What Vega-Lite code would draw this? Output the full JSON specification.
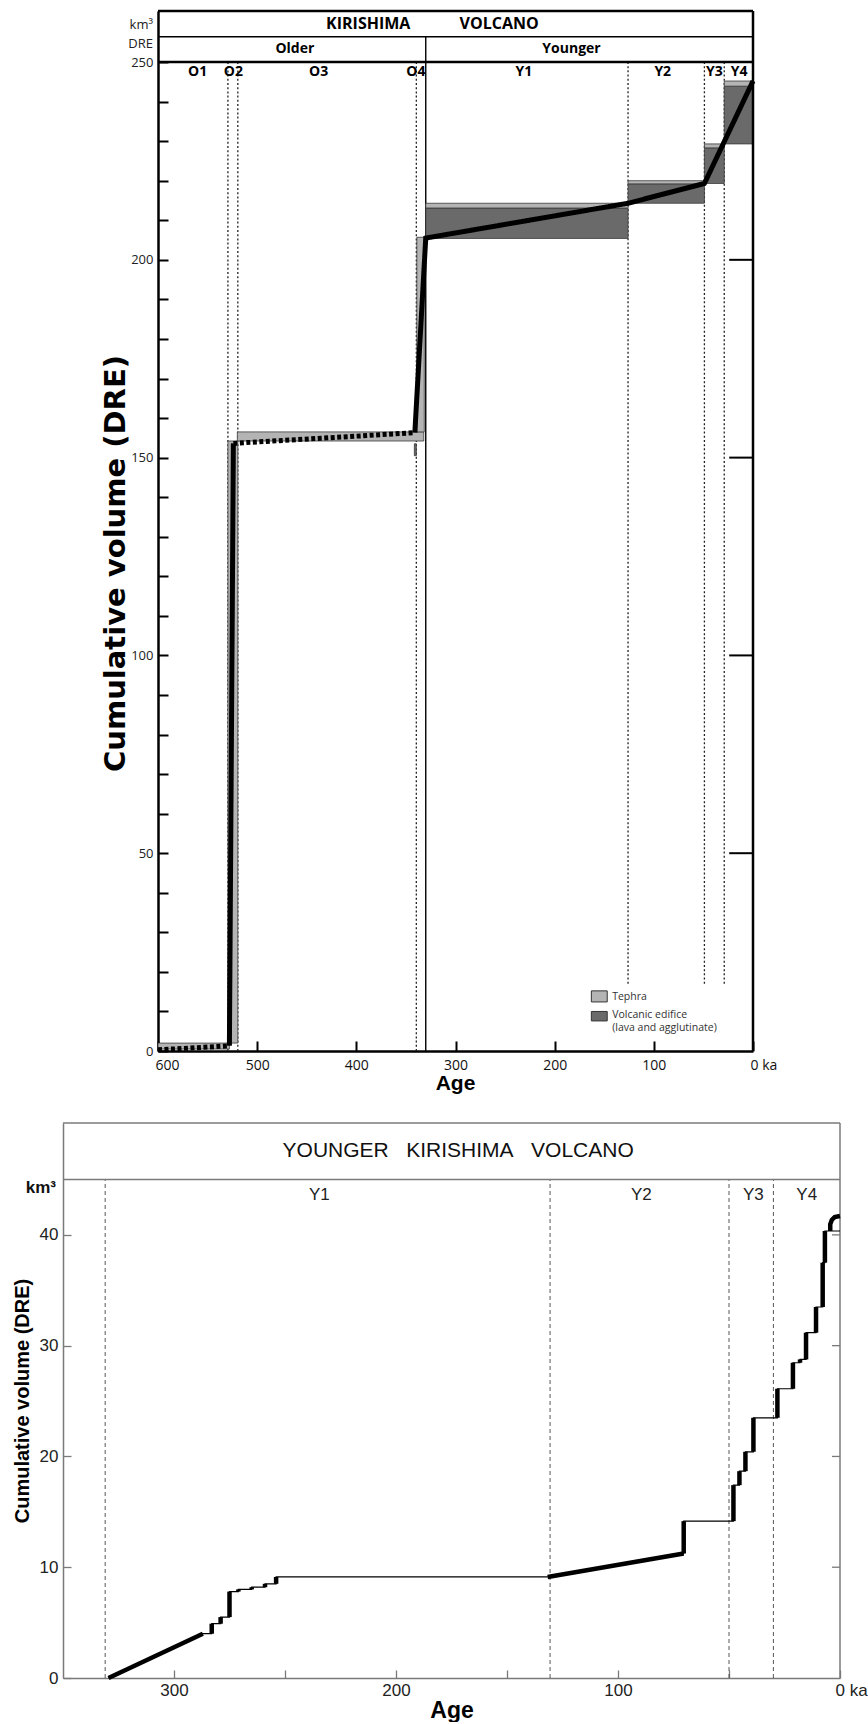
{
  "$schema": "https://vega.github.io/schema/vega-lite/v6.json",
  "padding": {"left": 12, "top": 9, "right": 0, "bottom": 0},
  "background": "white",
  "config": {
    "view": {"stroke": null},
    "axis": {"grid": false, "labelFlush": false, "labelOverlap": false, "labelBound": false}
  },
  "spacing": 72,
  "center": true,
  "bounds": "flush",
  "datasets": {
    "topBars": [
      {"age": 600, "age2": 528, "vol": 0.5, "vol2": 2.0, "kind": "Tephra"},
      {"age": 529.5, "age2": 519.5, "vol": 2.0, "vol2": 154.2, "kind": "Tephra"},
      {"age": 520, "age2": 332, "vol": 154.2, "vol2": 156.5, "kind": "Tephra"},
      {"age": 339, "age2": 331.5, "vol": 156.5, "vol2": 205.7, "kind": "Tephra"},
      {"age": 341.5, "age2": 339.5, "vol": 150.5, "vol2": 153.5, "kind": "Volcanic edifice"},
      {"age": 330, "age2": 126, "vol": 205.4, "vol2": 213.1, "kind": "Volcanic edifice"},
      {"age": 330, "age2": 126, "vol": 213.1, "vol2": 214.3, "kind": "Tephra"},
      {"age": 126, "age2": 49, "vol": 214.3, "vol2": 219.2, "kind": "Volcanic edifice"},
      {"age": 126, "age2": 49, "vol": 219.2, "vol2": 220.0, "kind": "Tephra"},
      {"age": 49, "age2": 29, "vol": 219.3, "vol2": 228.3, "kind": "Volcanic edifice"},
      {"age": 49, "age2": 29, "vol": 228.3, "vol2": 229.3, "kind": "Tephra"},
      {"age": 29, "age2": 0, "vol": 229.3, "vol2": 243.9, "kind": "Volcanic edifice"},
      {"age": 29, "age2": 0, "vol": 243.9, "vol2": 245.2, "kind": "Tephra"}
    ],
    "topLine": [
      {"seg": "a", "style": "dashed", "i": 0, "age": 600, "vol": 0.3},
      {"seg": "a", "style": "dashed", "i": 1, "age": 528, "vol": 1.3},
      {"seg": "b", "style": "solid", "i": 2, "age": 528, "vol": 1.3},
      {"seg": "b", "style": "solid", "i": 3, "age": 524, "vol": 153.6},
      {"seg": "c", "style": "dashed", "i": 4, "age": 524, "vol": 153.6},
      {"seg": "c", "style": "dashed", "i": 5, "age": 341, "vol": 156.3},
      {"seg": "d", "style": "solid", "i": 6, "age": 341, "vol": 156.3},
      {"seg": "d", "style": "solid", "i": 7, "age": 330, "vol": 205.5},
      {"seg": "d", "style": "solid", "i": 8, "age": 126, "vol": 214.3},
      {"seg": "d", "style": "solid", "i": 9, "age": 49, "vol": 219.3},
      {"seg": "d", "style": "solid", "i": 10, "age": 0, "vol": 245.2}
    ],
    "topDots": [
      {"age": 529.5, "vol": 0, "vol2": 250},
      {"age": 519.5, "vol": 0, "vol2": 250},
      {"age": 339.5, "vol": 0, "vol2": 250},
      {"age": 126, "vol": 17, "vol2": 250},
      {"age": 49, "vol": 17, "vol2": 250},
      {"age": 29, "vol": 17, "vol2": 250}
    ],
    "topFrameThick": [
      {"age": 600, "age2": 0, "vol": 250, "vol2": 250},
      {"age": 600, "age2": 0, "vol": 262.9, "vol2": 262.9},
      {"age": 0, "age2": 0, "vol": 0, "vol2": 262.9}
    ],
    "topFrameThin": [
      {"age": 600, "age2": 0, "vol": 256.4, "vol2": 256.4},
      {"age": 330, "age2": 330, "vol": 0, "vol2": 256.4}
    ],
    "topRightTicks": [
      {"age": 24, "age2": 0, "vol": 50},
      {"age": 24, "age2": 0, "vol": 100},
      {"age": 24, "age2": 0, "vol": 150},
      {"age": 24, "age2": 0, "vol": 200}
    ],
    "topTitle": [
      {"t": "KIRISHIMA", "age": 388, "vol": 259.6},
      {"t": "VOLCANO", "age": 256, "vol": 259.6}
    ],
    "topGroups": [
      {"t": "Older", "age": 462, "vol": 253.3},
      {"t": "Younger", "age": 183, "vol": 253.3}
    ],
    "topPeriods": [
      {"t": "O1", "age": 560, "vol": 247.6},
      {"t": "O2", "age": 524, "vol": 247.6},
      {"t": "O3", "age": 438, "vol": 247.6},
      {"t": "O4", "age": 340, "vol": 247.6},
      {"t": "Y1", "age": 231, "vol": 247.6},
      {"t": "Y2", "age": 91, "vol": 247.6},
      {"t": "Y3", "age": 39, "vol": 247.6},
      {"t": "Y4", "age": 14, "vol": 247.6}
    ],
    "topUnits": [
      {"t": "km³", "age": 600, "vol": 259.3},
      {"t": "DRE", "age": 600, "vol": 254.6}
    ],
    "topLegendBoxes": [
      {"age": 163, "age2": 147, "vol": 12.4, "vol2": 15.2, "kind": "Tephra"},
      {"age": 163, "age2": 147, "vol": 7.6, "vol2": 10.0, "kind": "Volcanic edifice"}
    ],
    "topLegendText": [
      {"t": "Tephra", "age": 142, "vol": 13.7},
      {"t": "Volcanic edifice", "age": 142, "vol": 9.1},
      {"t": "(lava and agglutinate)", "age": 142, "vol": 5.8}
    ],
    "botPath": [
      {"i": 0, "age": 329.5, "vol": 0},
      {"i": 1, "age": 287, "vol": 4.0},
      {"i": 2, "age": 283, "vol": 4.0},
      {"i": 3, "age": 283, "vol": 4.9},
      {"i": 4, "age": 279, "vol": 4.9},
      {"i": 5, "age": 279, "vol": 5.5},
      {"i": 6, "age": 275, "vol": 5.5},
      {"i": 7, "age": 275, "vol": 7.8},
      {"i": 8, "age": 271, "vol": 7.8},
      {"i": 9, "age": 271, "vol": 8.0},
      {"i": 10, "age": 265, "vol": 8.0},
      {"i": 11, "age": 265, "vol": 8.2},
      {"i": 12, "age": 259, "vol": 8.2},
      {"i": 13, "age": 259, "vol": 8.5},
      {"i": 14, "age": 254, "vol": 8.5},
      {"i": 15, "age": 254, "vol": 9.12},
      {"i": 16, "age": 131.7, "vol": 9.12},
      {"i": 17, "age": 70.4, "vol": 11.24},
      {"i": 18, "age": 70.4, "vol": 14.16},
      {"i": 19, "age": 48, "vol": 14.16},
      {"i": 20, "age": 48, "vol": 17.41},
      {"i": 21, "age": 45.3, "vol": 17.41},
      {"i": 22, "age": 45.3, "vol": 18.67},
      {"i": 23, "age": 42.6, "vol": 18.67},
      {"i": 24, "age": 42.6, "vol": 20.42},
      {"i": 25, "age": 39, "vol": 20.42},
      {"i": 26, "age": 39, "vol": 23.49},
      {"i": 27, "age": 28.2, "vol": 23.49},
      {"i": 28, "age": 28.2, "vol": 26.11},
      {"i": 29, "age": 21.2, "vol": 26.11},
      {"i": 30, "age": 21.2, "vol": 28.46},
      {"i": 31, "age": 18, "vol": 28.46},
      {"i": 32, "age": 18, "vol": 28.76},
      {"i": 33, "age": 15.3, "vol": 28.76},
      {"i": 34, "age": 15.3, "vol": 31.17},
      {"i": 35, "age": 10.8, "vol": 31.17},
      {"i": 36, "age": 10.8, "vol": 33.49},
      {"i": 37, "age": 7.8, "vol": 33.49},
      {"i": 38, "age": 7.8, "vol": 37.49},
      {"i": 39, "age": 6.8, "vol": 37.49},
      {"i": 40, "age": 6.8, "vol": 40.35},
      {"i": 41, "age": 0, "vol": 40.35}
    ],
    "botThick": [
      {"seg": 1, "i": 0, "age": 329.5, "vol": 0},
      {"seg": 1, "i": 1, "age": 287, "vol": 4.0},
      {"seg": 2, "i": 0, "age": 283, "vol": 4.0},
      {"seg": 2, "i": 1, "age": 283, "vol": 4.9},
      {"seg": 3, "i": 0, "age": 279, "vol": 4.9},
      {"seg": 3, "i": 1, "age": 279, "vol": 5.5},
      {"seg": 4, "i": 0, "age": 275, "vol": 5.5},
      {"seg": 4, "i": 1, "age": 275, "vol": 7.8},
      {"seg": 5, "i": 0, "age": 271, "vol": 7.8},
      {"seg": 5, "i": 1, "age": 271, "vol": 8.0},
      {"seg": 6, "i": 0, "age": 265, "vol": 8.0},
      {"seg": 6, "i": 1, "age": 265, "vol": 8.2},
      {"seg": 7, "i": 0, "age": 259, "vol": 8.2},
      {"seg": 7, "i": 1, "age": 259, "vol": 8.5},
      {"seg": 8, "i": 0, "age": 254, "vol": 8.5},
      {"seg": 8, "i": 1, "age": 254, "vol": 9.12},
      {"seg": 9, "i": 0, "age": 131.7, "vol": 9.12},
      {"seg": 9, "i": 1, "age": 70.4, "vol": 11.24},
      {"seg": 10, "i": 0, "age": 70.4, "vol": 11.24},
      {"seg": 10, "i": 1, "age": 70.4, "vol": 14.16},
      {"seg": 11, "i": 0, "age": 48, "vol": 14.16},
      {"seg": 11, "i": 1, "age": 48, "vol": 17.41},
      {"seg": 12, "i": 0, "age": 45.3, "vol": 17.41},
      {"seg": 12, "i": 1, "age": 45.3, "vol": 18.67},
      {"seg": 13, "i": 0, "age": 42.6, "vol": 18.67},
      {"seg": 13, "i": 1, "age": 42.6, "vol": 20.42},
      {"seg": 14, "i": 0, "age": 39, "vol": 20.42},
      {"seg": 14, "i": 1, "age": 39, "vol": 23.49},
      {"seg": 15, "i": 0, "age": 28.2, "vol": 23.49},
      {"seg": 15, "i": 1, "age": 28.2, "vol": 26.11},
      {"seg": 16, "i": 0, "age": 21.2, "vol": 26.11},
      {"seg": 16, "i": 1, "age": 21.2, "vol": 28.46},
      {"seg": 17, "i": 0, "age": 18, "vol": 28.46},
      {"seg": 17, "i": 1, "age": 18, "vol": 28.76},
      {"seg": 18, "i": 0, "age": 15.3, "vol": 28.76},
      {"seg": 18, "i": 1, "age": 15.3, "vol": 31.17},
      {"seg": 19, "i": 0, "age": 10.8, "vol": 31.17},
      {"seg": 19, "i": 1, "age": 10.8, "vol": 33.49},
      {"seg": 20, "i": 0, "age": 7.8, "vol": 33.49},
      {"seg": 20, "i": 1, "age": 7.8, "vol": 37.49},
      {"seg": 21, "i": 0, "age": 6.8, "vol": 37.49},
      {"seg": 21, "i": 1, "age": 6.8, "vol": 40.35},
      {"seg": 22, "i": 0, "age": 4.4, "vol": 40.35},
      {"seg": 22, "i": 1, "age": 4.4, "vol": 40.95},
      {"seg": 22, "i": 2, "age": 3.7, "vol": 41.35},
      {"seg": 22, "i": 3, "age": 2.4, "vol": 41.6},
      {"seg": 22, "i": 4, "age": 0, "vol": 41.7}
    ],
    "botDashes": [
      {"age": 331, "vol": 0, "vol2": 45},
      {"age": 130.6, "vol": 0, "vol2": 45},
      {"age": 50, "vol": 0, "vol2": 45},
      {"age": 30, "vol": 0, "vol2": 45}
    ],
    "botFrame": [
      {"age": 350, "age2": 0, "vol": 45, "vol2": 45},
      {"age": 350, "age2": 0, "vol": 50.1, "vol2": 50.1},
      {"age": 0, "age2": 0, "vol": 0, "vol2": 50.1}
    ],
    "botRightTicks": [
      {"age": 3.6, "age2": 0, "vol": 10},
      {"age": 3.6, "age2": 0, "vol": 20},
      {"age": 3.6, "age2": 0, "vol": 30},
      {"age": 3.6, "age2": 0, "vol": 40}
    ],
    "botTitle": [
      {"t": "YOUNGER\u00a0\u00a0\u00a0KIRISHIMA\u00a0\u00a0\u00a0VOLCANO", "age": 172, "vol": 47.55}
    ],
    "botPeriods": [
      {"t": "Y1", "age": 234.5, "vol": 43.6},
      {"t": "Y2", "age": 89.5, "vol": 43.6},
      {"t": "Y3", "age": 39, "vol": 43.6},
      {"t": "Y4", "age": 15, "vol": 43.6}
    ],
    "botUnits": [
      {"t": "km³", "age": 350, "vol": 44.2}
    ]
  },
  "vconcat": [
    {
      "width": 603,
      "height": 1040,
      "encoding": {
        "x": {
          "field": "age", "type": "quantitative",
          "scale": {"domain": [600, 0], "range": [8, 603], "nice": false, "zero": false},
          "axis": {
            "values": [600, 500, 400, 300, 200, 100, 0],
            "tickSize": -10, "tickWidth": 2, "tickColor": "#000",
            "domainColor": "#000", "domainWidth": 2.5,
            "labelPadding": 17, "labelFont": "Open Sans", "labelFontSize": 14, "labelColor": "#111",
            "labelExpr": "datum.value === 0 ? '0 ka' : datum.label",
            "labelAlign": {"condition": {"test": "datum.value === 0 || datum.value === 600", "value": "left"}, "value": "center"},
            "labelOffset": {"condition": {"test": "datum.value === 0 || datum.value === 600", "value": -3}, "value": 0},
            "title": "Age", "titleFont": "Liberation Sans", "titleFontSize": 21, "titleFontWeight": "bold",
            "titleColor": "#000", "titlePadding": 0, "titleX": 305
          }
        },
        "y": {
          "field": "vol", "type": "quantitative",
          "scale": {"domain": [0, 262.9], "nice": false, "zero": false},
          "axis": {
            "offset": -8,
            "values": [0, 10, 20, 30, 40, 50, 60, 70, 80, 90, 100, 110, 120, 130, 140, 150, 160, 170, 180, 190, 200, 210, 220, 230, 240, 250],
            "tickSize": -10, "tickWidth": 2, "tickColor": "#000",
            "domainColor": "#000", "domainWidth": 2.5,
            "labelPadding": 15, "labelFont": "Open Sans", "labelFontSize": 13, "labelColor": "#222",
            "labelExpr": "datum.value % 50 === 0 ? datum.label : ''",
            "title": "Cumulative volume (DRE)", "titleFont": "DejaVu Sans", "titleFontSize": 29,
            "titleFontWeight": "bold", "titleColor": "#000", "titlePadding": 0, "titleY": 552
          }
        }
      },
      "layer": [
        {
          "data": {"name": "topDots"},
          "mark": {"type": "rule", "color": "#222", "strokeWidth": 1.3, "strokeDash": [2, 2.2]},
          "encoding": {"y2": {"field": "vol2"}}
        },
        {
          "data": {"name": "topFrameThin"},
          "mark": {"type": "rule", "color": "#000", "strokeWidth": 1.4},
          "encoding": {"x2": {"field": "age2"}, "y2": {"field": "vol2"}}
        },
        {
          "data": {"name": "topBars"},
          "mark": {"type": "rect", "stroke": "#3a3a3a", "strokeWidth": 0.8},
          "encoding": {
            "x2": {"field": "age2"},
            "y2": {"field": "vol2"},
            "fill": {
              "field": "kind", "type": "nominal",
              "scale": {"domain": ["Tephra", "Volcanic edifice"], "range": ["#b4b4b4", "#6a6a6a"]},
              "legend": null
            }
          }
        },
        {
          "data": {"name": "topLine"},
          "mark": {"type": "line", "color": "#000", "strokeWidth": 5, "strokeCap": "butt"},
          "encoding": {
            "detail": {"field": "seg", "type": "nominal"},
            "order": {"field": "i", "type": "quantitative"},
            "strokeDash": {
              "field": "style", "type": "nominal",
              "scale": {"domain": ["solid", "dashed"], "range": [[1, 0], [4, 2.5]]},
              "legend": null
            }
          }
        },
        {
          "data": {"name": "topFrameThick"},
          "mark": {"type": "rule", "color": "#000", "strokeWidth": 2.5},
          "encoding": {"x2": {"field": "age2"}, "y2": {"field": "vol2"}}
        },
        {
          "data": {"name": "topRightTicks"},
          "mark": {"type": "rule", "color": "#000", "strokeWidth": 2},
          "encoding": {"x2": {"field": "age2"}}
        },
        {
          "data": {"name": "topTitle"},
          "mark": {"type": "text", "font": "Open Sans", "fontSize": 16, "fontWeight": "bold", "color": "#000", "baseline": "middle"},
          "encoding": {"text": {"field": "t"}}
        },
        {
          "data": {"name": "topGroups"},
          "mark": {"type": "text", "font": "Open Sans", "fontSize": 14, "fontWeight": "bold", "color": "#000", "baseline": "middle"},
          "encoding": {"text": {"field": "t"}}
        },
        {
          "data": {"name": "topPeriods"},
          "mark": {"type": "text", "font": "Open Sans", "fontSize": 14, "fontWeight": "bold", "color": "#000", "baseline": "middle"},
          "encoding": {"text": {"field": "t"}}
        },
        {
          "data": {"name": "topUnits"},
          "mark": {"type": "text", "font": "Open Sans", "fontSize": 13, "color": "#222", "align": "right", "baseline": "middle", "dx": -5},
          "encoding": {"text": {"field": "t"}}
        },
        {
          "data": {"name": "topLegendBoxes"},
          "mark": {"type": "rect", "stroke": "#333", "strokeWidth": 1},
          "encoding": {
            "x2": {"field": "age2"},
            "y2": {"field": "vol2"},
            "fill": {"field": "kind", "type": "nominal", "legend": null}
          }
        },
        {
          "data": {"name": "topLegendText"},
          "mark": {"type": "text", "font": "Open Sans", "fontSize": 10.5, "color": "#333", "align": "left", "baseline": "middle"},
          "encoding": {"text": {"field": "t"}}
        }
      ]
    },
    {
      "width": 777,
      "height": 555,
      "encoding": {
        "x": {
          "field": "age", "type": "quantitative",
          "scale": {"domain": [0, 350], "reverse": true, "nice": false, "zero": false},
          "axis": {
            "values": [300, 250, 200, 150, 100, 50, 0],
            "tickSize": -8, "tickWidth": 1.3, "tickColor": "#7a7a7a",
            "domainColor": "#7a7a7a", "domainWidth": 1.5,
            "labelPadding": 12, "labelFont": "Liberation Sans Narrow, Liberation Sans, sans-serif", "labelFontSize": 17, "labelColor": "#222",
            "labelExpr": "datum.value % 100 === 0 ? (datum.value === 0 ? '0 ka' : datum.label) : ''",
            "labelAlign": {"condition": {"test": "datum.value === 0", "value": "left"}, "value": "center"},
            "labelOffset": {"condition": {"test": "datum.value === 0", "value": -5}, "value": 0},
            "title": "Age", "titleFont": "Liberation Sans Narrow, Liberation Sans, sans-serif", "titleFontSize": 23,
            "titleFontWeight": "bold", "titleColor": "#000", "titlePadding": 1
          }
        },
        "y": {
          "field": "vol", "type": "quantitative",
          "scale": {"domain": [0, 50.1], "nice": false, "zero": false},
          "axis": {
            "values": [0, 10, 20, 30, 40],
            "tickSize": -8, "tickWidth": 1.3, "tickColor": "#7a7a7a",
            "domainColor": "#7a7a7a", "domainWidth": 1.5,
            "labelPadding": 13, "labelFont": "Liberation Sans Narrow, Liberation Sans, sans-serif", "labelFontSize": 17, "labelColor": "#222",
            "title": "Cumulative volume (DRE)", "titleFont": "Liberation Sans Narrow, Liberation Sans, sans-serif",
            "titleFontSize": 20, "titleFontWeight": "bold", "titleColor": "#000", "titlePadding": 7
          }
        }
      },
      "layer": [
        {
          "data": {"name": "botDashes"},
          "mark": {"type": "rule", "color": "#444", "strokeWidth": 0.9, "strokeDash": [4, 3]},
          "encoding": {"y2": {"field": "vol2"}}
        },
        {
          "data": {"name": "botFrame"},
          "mark": {"type": "rule", "color": "#7a7a7a", "strokeWidth": 1.5},
          "encoding": {"x2": {"field": "age2"}, "y2": {"field": "vol2"}}
        },
        {
          "data": {"name": "botRightTicks"},
          "mark": {"type": "rule", "color": "#7a7a7a", "strokeWidth": 1.3},
          "encoding": {"x2": {"field": "age2"}}
        },
        {
          "data": {"name": "botPath"},
          "mark": {"type": "line", "color": "#000", "strokeWidth": 1.2},
          "encoding": {"order": {"field": "i", "type": "quantitative"}}
        },
        {
          "data": {"name": "botThick"},
          "mark": {"type": "line", "color": "#000", "strokeWidth": 4.5, "strokeCap": "butt"},
          "encoding": {
            "detail": {"field": "seg", "type": "nominal"},
            "order": {"field": "i", "type": "quantitative"}
          }
        },
        {
          "data": {"name": "botTitle"},
          "mark": {"type": "text", "font": "Liberation Sans Narrow, Liberation Sans, sans-serif", "fontSize": 21, "color": "#111", "baseline": "middle"},
          "encoding": {"text": {"field": "t"}}
        },
        {
          "data": {"name": "botPeriods"},
          "mark": {"type": "text", "font": "Liberation Sans Narrow, Liberation Sans, sans-serif", "fontSize": 17, "color": "#222", "baseline": "middle"},
          "encoding": {"text": {"field": "t"}}
        },
        {
          "data": {"name": "botUnits"},
          "mark": {"type": "text", "font": "Liberation Sans Narrow, Liberation Sans, sans-serif", "fontSize": 17, "fontWeight": "bold", "color": "#111", "align": "right", "baseline": "middle", "dx": -7},
          "encoding": {"text": {"field": "t"}}
        }
      ]
    }
  ]
}
